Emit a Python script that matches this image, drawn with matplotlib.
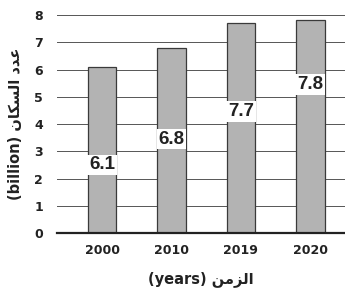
import matplotlib
matplotlib.use("Agg")
import matplotlib.pyplot as plt

years = ["2000", "2010", "2019", "2020"]
population = [6.1, 6.8, 7.7, 7.8]
label_y = [2.5, 3.45, 4.45, 5.45]   # where the value labels sit inside the bars
yticks = [0, 1, 2, 3, 4, 5, 6, 7, 8]

# Arabic written in presentation forms, visual (left-to-right) order,
# since matplotlib does no shaping or bidi on its own
ar_population = "\uFEE5\uFE8E\uFEDC\uFEB4\uFEDF\uFE8D \uFEA9\uFEAA\uFECB"   # عدد السكان
ar_time = "\uFEE6\uFEE3\uFEB0\uFEDF\uFE8D"                                 # الزمن

fig = plt.figure(figsize=(3.45, 3.0), dpi=100)
ax = fig.add_axes([0.165, 0.223, 0.835, 0.727])

x = range(len(years))
ax.bar(x, population, width=0.41, color="#b3b3b3", edgecolor="#3a3a3a",
       linewidth=0.9, zorder=2)
for xi, v, ly in zip(x, population, label_y):
    ax.text(xi, ly, f"{v}", ha="center", va="center", fontsize=13.5,
            fontweight="bold", color="#222222", zorder=3,
            family=["Liberation Sans"],
            bbox=dict(boxstyle="square,pad=0.1", fc="white", ec="none"))

ax.set_xlim(-0.65, 3.5)
ax.set_ylim(0, 8)
ax.set_yticks(yticks)
ax.set_xticks(list(x))
ax.set_xticklabels(years)
ax.yaxis.grid(True, color="#555555", linewidth=0.7, zorder=0)
ax.set_axisbelow(True)
for s in ["left", "right", "top"]:
    ax.spines[s].set_visible(False)
ax.spines["bottom"].set_color("#222222")
ax.spines["bottom"].set_linewidth(1.6)
ax.tick_params(length=0, labelsize=9, labelcolor="#222222")
ax.tick_params(axis="x", pad=8)
ax.tick_params(axis="y", pad=10)
for lab in ax.get_xticklabels() + ax.get_yticklabels():
    lab.set_fontweight("bold")

ax.set_xlabel("(years) " + ar_time, fontsize=10.5, fontweight="bold",
              labelpad=10, color="#222222", family=["DejaVu Sans"])
ax.set_ylabel("(billion) " + ar_population, fontsize=10.5, fontweight="bold",
              labelpad=8, color="#222222", family=["DejaVu Sans"])

plt.savefig("out.png", dpi=100)
